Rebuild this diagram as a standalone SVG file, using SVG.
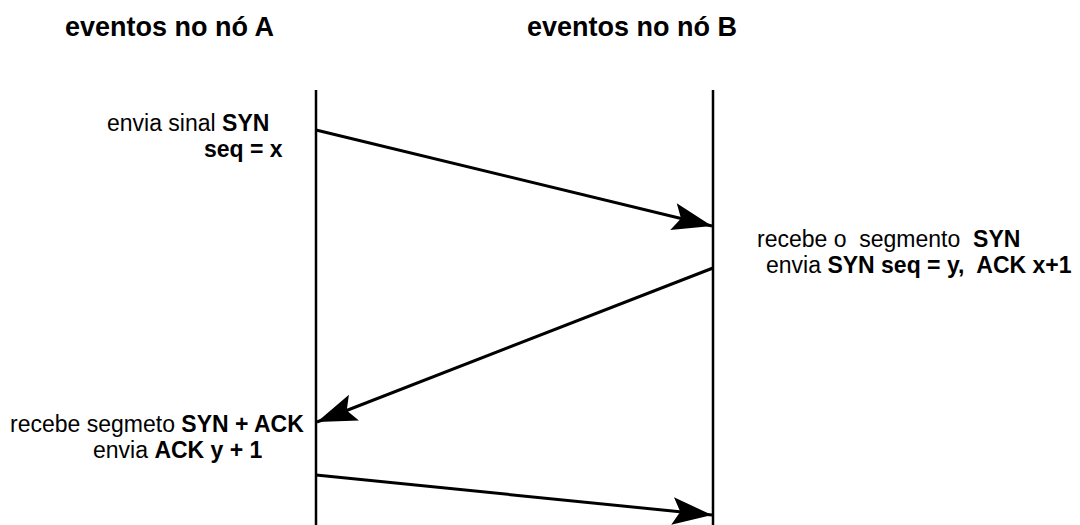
<svg xmlns="http://www.w3.org/2000/svg" width="1080" height="525" viewBox="0 0 1080 525">
  <style>
    .title { font-family: "Liberation Sans", Arial, sans-serif; font-size: 27px; font-weight: bold; fill: #000; }
    .lbl { font-family: "Liberation Sans", Arial, sans-serif; font-size: 23px; fill: #000; white-space: pre; }
    .b { font-weight: bold; }
    .life { stroke: #000; stroke-width: 2.5; fill: none; }
    .msg { stroke: #000; stroke-width: 3; fill: none; marker-end: url(#head); }
  </style>
  <defs>
    <marker id="head" markerUnits="userSpaceOnUse" markerWidth="44" markerHeight="34" viewBox="-38 -15 40 30" refX="0" refY="0" orient="auto">
      <path d="M0,0 L-36,-12.5 L-29,0 L-36,12.5 Z" fill="#000"/>
    </marker>
  </defs>

  <g id="nodeA">
    <text class="title" x="65" y="36">eventos no nó A</text>
    <line class="life" x1="316" y1="90" x2="316" y2="525"/>
  </g>
  <g id="nodeB">
    <text class="title" x="527" y="36">eventos no nó B</text>
    <line class="life" x1="713" y1="90" x2="713" y2="525"/>
  </g>

  <g id="labels">
    <text class="lbl" x="107" y="131">envia sinal <tspan class="b">SYN</tspan></text>
    <text class="lbl b" x="204" y="157">seq = x</text>
    <text class="lbl" x="757" y="247">recebe o  segmento  <tspan class="b">SYN</tspan></text>
    <text class="lbl" x="766" y="273">envia <tspan class="b">SYN seq = y,  ACK x+1</tspan></text>
    <text class="lbl" x="10" y="432">recebe segmeto <tspan class="b">SYN + ACK</tspan></text>
    <text class="lbl" x="93" y="458">envia <tspan class="b">ACK y + 1</tspan></text>
  </g>

  <g id="connectors">
    <line class="msg" x1="316" y1="130" x2="712" y2="226"/>
    <line class="msg" x1="713" y1="268" x2="317" y2="422"/>
    <line class="msg" x1="316" y1="475" x2="712" y2="515"/>
  </g>
</svg>
